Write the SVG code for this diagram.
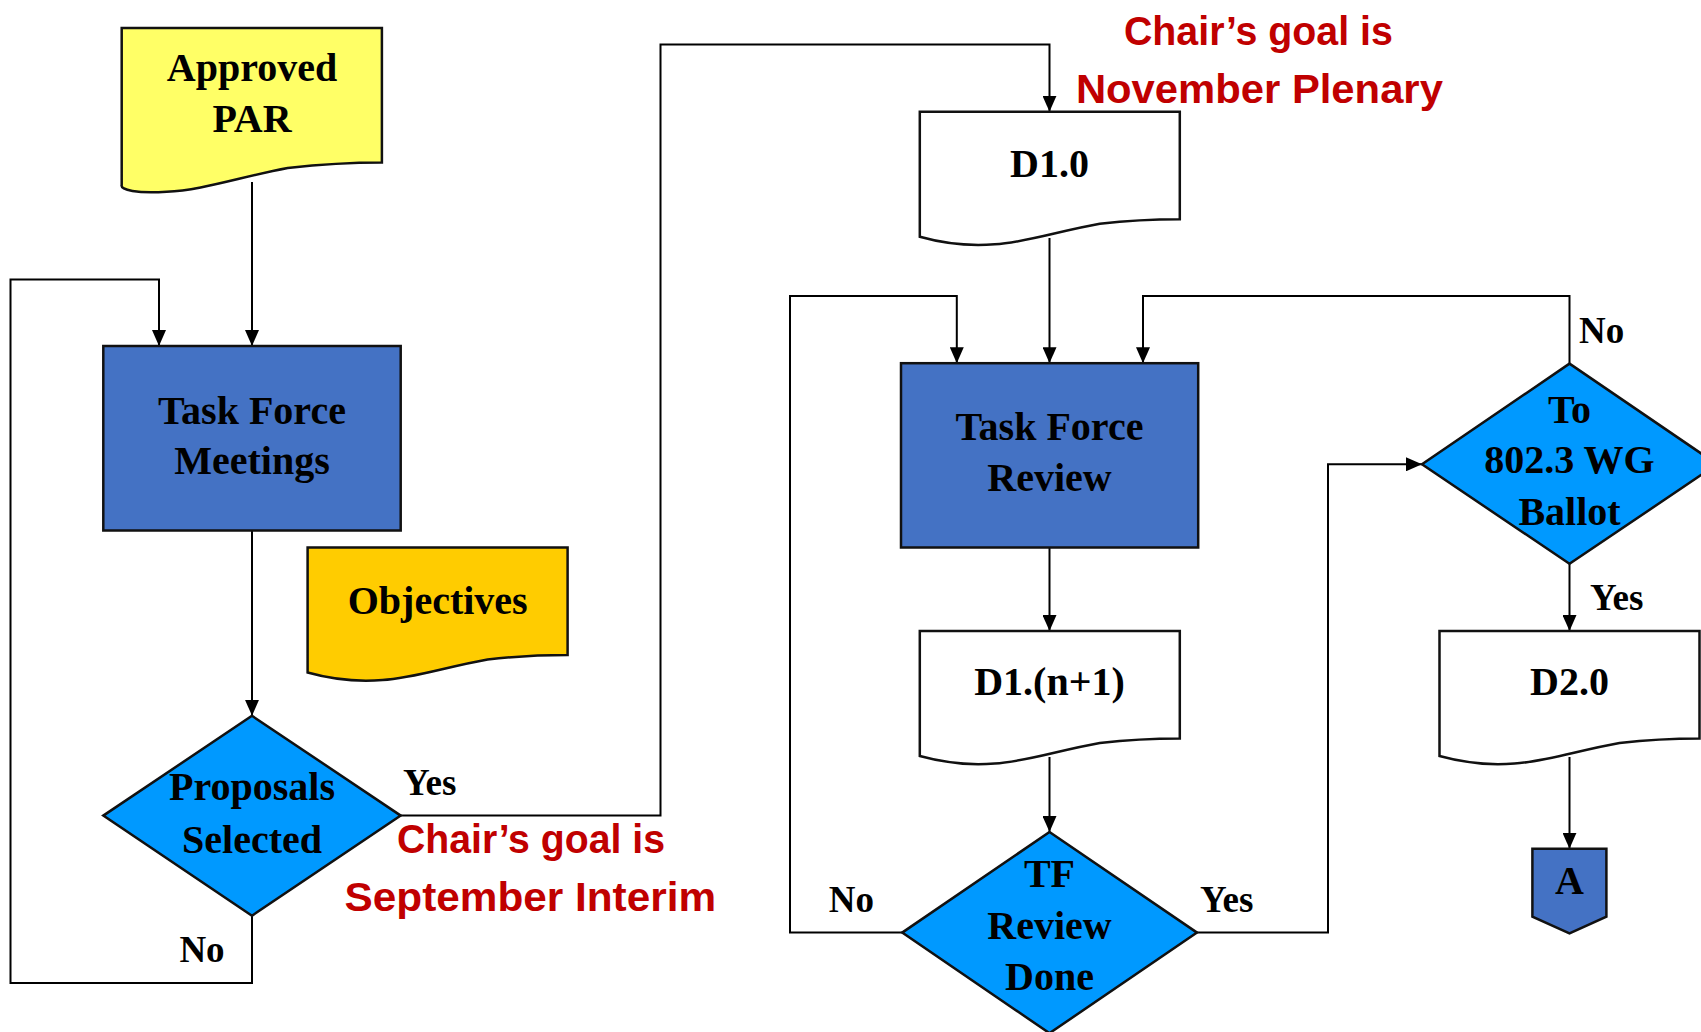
<svg xmlns="http://www.w3.org/2000/svg" width="1701" height="1032" viewBox="0 0 1701 1032">
<style>
.n{font-family:"Liberation Serif","Times New Roman",serif;font-weight:bold;font-size:40px;fill:#000;text-anchor:middle}
.lb{font-family:"Liberation Serif","Times New Roman",serif;font-weight:bold;font-size:37px;fill:#000}
.red{font-family:"Liberation Sans",Arial,sans-serif;font-weight:bold;font-size:40px;fill:#C00000;text-anchor:middle}
.box{stroke:#111;stroke-width:2.5}
.con{fill:none;stroke:#000;stroke-width:2}
</style>
<defs>
<marker id="ah" viewBox="0 0 16 14" refX="16" refY="7" markerWidth="16" markerHeight="14" markerUnits="userSpaceOnUse" orient="auto">
<path d="M0,0 L16,7 L0,14 Z" fill="#000"/>
</marker>
<path id="doc" d="M0,0 H260 V107.5 C240,107.5 215,108 180,112 C140,119 105,131 75,132.5 C50,134.5 25,132 0,125 Z"/>
</defs>
<rect width="1701" height="1032" fill="#fff"/>

<g id="connectors">
<path class="con" d="M252,182 V346" marker-end="url(#ah)"/>
<path class="con" d="M252,915.7 V983 H10.5 V279.6 H159 V346" marker-end="url(#ah)"/>
<path class="con" d="M252,530.5 V715.8" marker-end="url(#ah)"/>
<path class="con" d="M400.7,815.6 H660.5 V44.6 H1049.5 V111.8" marker-end="url(#ah)"/>
<path class="con" d="M1049.5,238 V363.2" marker-end="url(#ah)"/>
<path class="con" d="M1049.5,547.5 V631" marker-end="url(#ah)"/>
<path class="con" d="M1049.5,757 V832" marker-end="url(#ah)"/>
<path class="con" d="M902.2,932.6 H790 V296 H956.8 V363.2" marker-end="url(#ah)"/>
<path class="con" d="M1197,932.6 H1328 V464.3 H1422" marker-end="url(#ah)"/>
<path class="con" d="M1569.5,363.6 V296 H1143 V363.2" marker-end="url(#ah)"/>
<path class="con" d="M1569.5,563.8 V631" marker-end="url(#ah)"/>
<path class="con" d="M1569.5,757 V848.8" marker-end="url(#ah)"/>
</g>

<g id="approved-par">
<path class="box" fill="#FFFF66" d="M121.7,27.9 H381.9 V162.5 C358,162.5 328,163.5 287.7,168 C240,177 201,190.5 166.7,191.7 C137,193.7 120,190 121.7,185 Z" transform=""/>
<text class="n" x="252" y="81.4">Approved</text>
<text class="n" x="252" y="132">PAR</text>
</g>

<g id="task-force-meetings">
<rect class="box" x="103.3" y="346" width="297.4" height="184.5" fill="#4472C4"/>
<text class="n" x="252" y="424.3">Task Force</text>
<text class="n" x="252" y="474.3">Meetings</text>
</g>

<g id="objectives">
<use href="#doc" x="307.6" y="547.5" class="box" fill="#FFCC00"/>
<text class="n" x="437.7" y="613.7">Objectives</text>
</g>

<g id="proposals-selected">
<path class="box" fill="#0099FF" d="M252,715.8 L400.7,815.6 L252,915.7 L103.3,815.6 Z"/>
<text class="n" x="252" y="800.3">Proposals</text>
<text class="n" x="252" y="852.9">Selected</text>
</g>

<g id="d1-0">
<use href="#doc" x="919.8" y="111.8" class="box" fill="#fff"/>
<text class="n" x="1049.5" y="176.8">D1.0</text>
</g>

<g id="task-force-review">
<rect class="box" x="901" y="363.2" width="297.2" height="184.3" fill="#4472C4"/>
<text class="n" x="1049.5" y="440">Task Force</text>
<text class="n" x="1049.5" y="491">Review</text>
</g>

<g id="d1-n1">
<use href="#doc" x="919.8" y="631" class="box" fill="#fff"/>
<text class="n" x="1049.5" y="695">D1.(n+1)</text>
</g>

<g id="tf-review-done">
<path class="box" fill="#0099FF" d="M1049.5,832 L1197,932.6 L1049.5,1033.2 L902.2,932.6 Z"/>
<text class="n" x="1049.5" y="886.8">TF</text>
<text class="n" x="1049.5" y="939.4">Review</text>
<text class="n" x="1049.5" y="990.3">Done</text>
</g>

<g id="wg-ballot">
<path class="box" fill="#0099FF" d="M1569.5,363.6 L1717,464.3 L1569.5,563.8 L1422,464.3 Z"/>
<text class="n" x="1569.5" y="423">To</text>
<text class="n" x="1569.5" y="473">802.3 WG</text>
<text class="n" x="1569.5" y="525">Ballot</text>
</g>

<g id="d2-0">
<use href="#doc" x="1439.5" y="631" class="box" fill="#fff"/>
<text class="n" x="1569.5" y="695">D2.0</text>
</g>

<g id="connector-a">
<path class="box" fill="#4472C4" d="M1532.4,848.8 H1606.4 V916.7 L1569.5,933.3 L1532.4,916.7 Z"/>
<text class="n" x="1569.5" y="893.6">A</text>
</g>

<g id="labels">
<text class="lb" x="403" y="795">Yes</text>
<text class="lb" x="179.4" y="962">No</text>
<text class="lb" x="828.8" y="912.3">No</text>
<text class="lb" x="1200" y="912.3">Yes</text>
<text class="lb" x="1579" y="342.9">No</text>
<text class="lb" x="1590" y="610.3">Yes</text>
</g>

<g id="notes">
<text class="red" x="1258.4" y="44.6" textLength="269" lengthAdjust="spacingAndGlyphs">Chair’s goal is</text>
<text class="red" x="1259.4" y="102.5" textLength="367" lengthAdjust="spacingAndGlyphs">November Plenary</text>
<text class="red" x="531" y="853" textLength="268" lengthAdjust="spacingAndGlyphs">Chair’s goal is</text>
<text class="red" x="530.3" y="910.6" textLength="371.5" lengthAdjust="spacingAndGlyphs">September Interim</text>
</g>
</svg>
